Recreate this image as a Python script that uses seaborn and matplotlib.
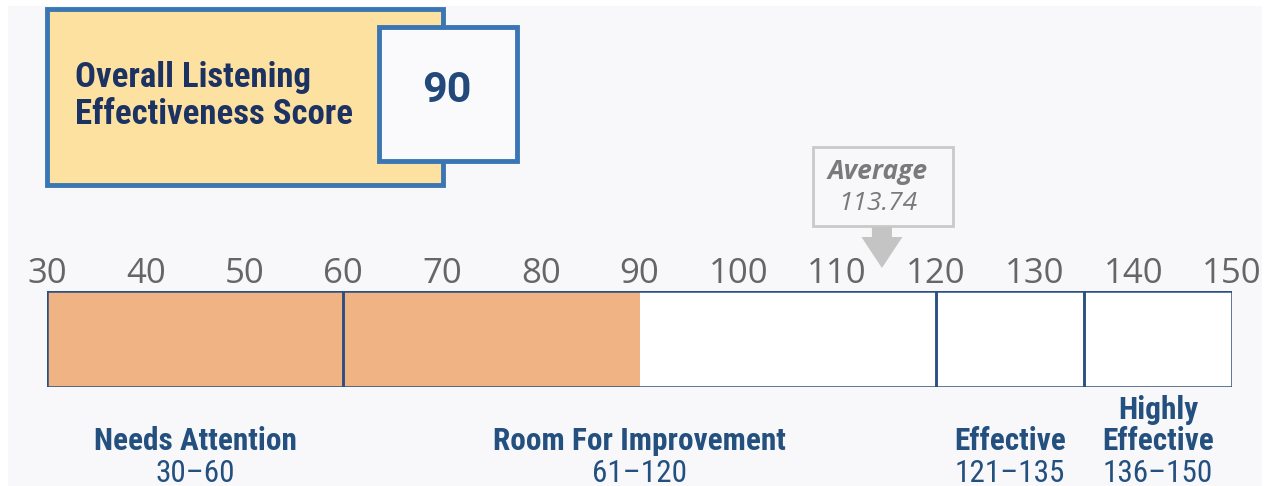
import matplotlib
matplotlib.use("Agg")
import matplotlib.pyplot as plt
from matplotlib.patches import Rectangle, FancyArrow
import seaborn as sns

# data
score = 90
average = 113.74
band_edges = [30, 60, 120, 135, 150]
band_names = ["Needs Attention", "Room For Improvement", "Effective", "Highly\nEffective"]
band_ranges = ["30\u201360", "61\u2013120", "121\u2013135", "136\u2013150"]
ticks = list(range(30, 151, 10))
title_text = "Overall Listening\nEffectiveness Score"

sns.set_theme(style="white")
narrow = ["Roboto Condensed", "Roboto", "DejaVu Sans"]
plain = ["Open Sans", "DejaVu Sans"]
navy = "#1c3263"
blue = "#24507f"
grey_txt = "#666666"

W, H = 1266, 486
fig = plt.figure(figsize=(W / 100, H / 100), dpi=100, facecolor="white")

# overlay in pixel coords
bg = fig.add_axes([0, 0, 1, 1])
bg.set_xlim(0, W)
bg.set_ylim(H, 0)
bg.axis("off")
bg.add_patch(Rectangle((8, 6), 1254, 480, facecolor="#f8f8fb", edgecolor="none"))

# score bar axis
x0, x1 = 47, 1232
y_top, y_bot = 291, 387
ax = fig.add_axes([x0 / W, 1 - y_bot / H, (x1 - x0) / W, (y_bot - y_top) / H])
ax.set_facecolor("white")
sns.barplot(x=[score], y=[0], orient="h", color="#f0b383", width=1.0,
            saturation=1, edgecolor="none", ax=ax)
lefts = band_edges[:-1]
widths = [b - a for a, b in zip(band_edges[:-1], band_edges[1:])]
ax.barh([0] * len(lefts), widths, left=lefts, height=1.0, fill=False,
        edgecolor="#2a4f82", linewidth=1.8)
ax.set_xlim(30, 150)
ax.set_ylim(0.5, -0.5)
ax.set_yticks([])
ax.set_ylabel("")
ax.xaxis.tick_top()
ax.set_xticks(ticks)
ax.set_xticklabels([str(t) for t in ticks], family=plain, fontsize=25, color=grey_txt)
ax.tick_params(axis="x", length=0, pad=0)
for s in ax.spines.values():
    s.set_visible(False)

# band labels below
xpix = lambda v: x0 + (v - 30) / 120 * (x1 - x0)
for a, b, name, rng in zip(band_edges[:-1], band_edges[1:], band_names, band_ranges):
    cx = xpix((a + b) / 2)
    lines = name.split("\n")
    for i, line in enumerate(lines):
        bg.text(cx, 441 - 31 * (len(lines) - 1 - i), line, ha="center", va="center",
                family=narrow, fontweight="bold", fontsize=22.5, color=blue)
    bg.text(cx, 473, rng, ha="center", va="center", family=narrow,
            fontsize=22.5, color=blue)

# title box
bg.add_patch(Rectangle((47, 9), 396, 176, facecolor="#fde1a1", edgecolor="#3a76b3", linewidth=3.5))
bg.add_patch(Rectangle((379, 27), 138, 134, facecolor="#fafafc", edgecolor="#3a76b3", linewidth=3.5))
bg.text(75, 96, title_text, ha="left", va="center", family=narrow, fontweight="bold",
        fontsize=25, color=navy, linespacing=1.12)
bg.text(447, 90, str(score), ha="center", va="center", family=["Roboto", "DejaVu Sans"],
        fontweight="bold", fontsize=31, color="#23497b")

# average callout
ax_x = xpix(average)
bg.add_patch(Rectangle((813, 147), 140, 79, facecolor="#f8f8fb", edgecolor="#c9c9c9", linewidth=2))
bg.text(878, 171, "Average", ha="center", va="center", family=plain, style="italic",
        fontweight="bold", fontsize=19, color="#7a7a7a")
bg.text(878, 203, f"{average:.2f}", ha="center", va="center", family=plain,
        style="italic", fontsize=19, color="#7a7a7a")
bg.add_patch(FancyArrow(ax_x + 8, 227, 0, 41, width=20, head_width=41, head_length=31,
                        length_includes_head=True, color="#c4c4c4", linewidth=0))

fig.savefig("out.png", dpi=100, facecolor="white")
